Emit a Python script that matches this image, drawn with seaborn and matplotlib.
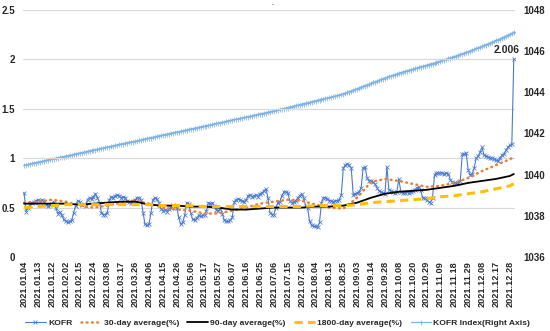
import matplotlib

matplotlib.use("Agg")

import matplotlib.pyplot as plt  # noqa: E402
import numpy as np  # noqa: E402
import seaborn as sns  # noqa: E402
from matplotlib import font_manager  # noqa: E402

# ---------------------------------------------------------------------------
# Data
# ---------------------------------------------------------------------------

tick_labels = [
    "2021.01.04", "2021.01.13", "2021.01.22", "2021.02.02", "2021.02.15", "2021.02.24",
    "2021.03.08", "2021.03.17", "2021.03.26", "2021.04.06", "2021.04.15", "2021.04.26",
    "2021.05.06", "2021.05.17", "2021.05.27", "2021.06.07", "2021.06.16", "2021.06.25",
    "2021.07.06", "2021.07.15", "2021.07.26", "2021.08.04", "2021.08.13", "2021.08.25",
    "2021.09.03", "2021.09.14", "2021.09.28", "2021.10.08", "2021.10.20", "2021.10.29",
    "2021.11.09", "2021.11.18", "2021.11.29", "2021.12.08", "2021.12.17", "2021.12.28",
]

# daily KOFR (%), one row per 7 trading days
kofr = [
    0.65, 0.46, 0.50, 0.53, 0.55, 0.56, 0.57,
    0.58, 0.57, 0.58, 0.56, 0.53, 0.52, 0.53,
    0.54, 0.56, 0.50, 0.44, 0.46, 0.42, 0.38,
    0.36, 0.35, 0.36, 0.37, 0.45, 0.52, 0.57,
    0.56, 0.53, 0.54, 0.52, 0.58, 0.60, 0.59,
    0.61, 0.64, 0.60, 0.55, 0.45, 0.43, 0.43,
    0.45, 0.58, 0.61, 0.60, 0.62, 0.63, 0.62,
    0.60, 0.61, 0.60, 0.57, 0.56, 0.55, 0.57,
    0.58, 0.60, 0.60, 0.58, 0.45, 0.33, 0.32,
    0.33, 0.45, 0.58, 0.60, 0.59, 0.55, 0.49,
    0.47, 0.48, 0.46, 0.49, 0.50, 0.53, 0.52,
    0.50, 0.40, 0.33, 0.35, 0.42, 0.55, 0.54,
    0.45, 0.38, 0.37, 0.39, 0.42, 0.41, 0.42,
    0.43, 0.47, 0.55, 0.54, 0.55, 0.52, 0.48,
    0.47, 0.49, 0.44, 0.37, 0.36, 0.36, 0.37,
    0.40, 0.56, 0.58, 0.59, 0.58, 0.57, 0.56,
    0.58, 0.62, 0.63, 0.61, 0.62, 0.63, 0.61,
    0.64, 0.65, 0.67, 0.69, 0.60, 0.45, 0.43,
    0.43, 0.50, 0.55, 0.56, 0.62, 0.66, 0.66,
    0.65, 0.57, 0.55, 0.56, 0.57, 0.60, 0.62,
    0.64, 0.60, 0.52, 0.50, 0.36, 0.32, 0.31,
    0.31, 0.30, 0.35, 0.55, 0.60, 0.60, 0.59,
    0.57, 0.57, 0.56, 0.57, 0.57, 0.58, 0.63,
    0.90, 0.93, 0.94, 0.93, 0.90, 0.63, 0.64,
    0.65, 0.66, 0.70, 0.90, 0.91, 0.80, 0.77,
    0.77, 0.76, 0.74, 0.70, 0.67, 0.66, 0.65,
    0.64, 0.91, 0.68, 0.67, 0.66, 0.65, 0.66,
    0.79, 0.66, 0.65, 0.65, 0.66, 0.65, 0.66,
    0.67, 0.68, 0.70, 0.71, 0.68, 0.60, 0.60,
    0.58, 0.56, 0.55, 0.60, 0.83, 0.85, 0.85,
    0.85, 0.85, 0.84, 0.85, 0.84, 0.78, 0.76,
    0.75, 0.75, 0.75, 0.77, 1.04, 1.04, 1.05,
    0.88, 0.83, 0.84, 0.90, 1.00, 1.02, 1.06,
    1.11, 1.03, 1.02, 1.01, 1.00, 1.00, 0.99,
    0.98, 0.97, 1.00, 1.03, 1.04, 1.08, 1.11,
    1.13, 1.14, 2.006,
]

# daily KOFR index (right axis)
kofr_index = [
    1040.46, 1040.48, 1040.50, 1040.52, 1040.55, 1040.57, 1040.59,
    1040.61, 1040.63, 1040.65, 1040.67, 1040.70, 1040.72, 1040.74,
    1040.76, 1040.78, 1040.80, 1040.82, 1040.84, 1040.86, 1040.88,
    1040.90, 1040.92, 1040.94, 1040.96, 1040.99, 1041.01, 1041.03,
    1041.05, 1041.07, 1041.09, 1041.11, 1041.14, 1041.16, 1041.18,
    1041.20, 1041.22, 1041.24, 1041.26, 1041.28, 1041.30, 1041.32,
    1041.34, 1041.36, 1041.38, 1041.40, 1041.43, 1041.45, 1041.47,
    1041.49, 1041.51, 1041.53, 1041.55, 1041.57, 1041.59, 1041.61,
    1041.63, 1041.65, 1041.67, 1041.69, 1041.72, 1041.74, 1041.76,
    1041.78, 1041.80, 1041.82, 1041.84, 1041.87, 1041.89, 1041.91,
    1041.93, 1041.95, 1041.97, 1041.99, 1042.01, 1042.03, 1042.05,
    1042.07, 1042.09, 1042.11, 1042.13, 1042.16, 1042.18, 1042.20,
    1042.22, 1042.24, 1042.26, 1042.28, 1042.30, 1042.32, 1042.34,
    1042.36, 1042.38, 1042.40, 1042.42, 1042.45, 1042.47, 1042.49,
    1042.51, 1042.53, 1042.55, 1042.57, 1042.60, 1042.62, 1042.64,
    1042.66, 1042.68, 1042.70, 1042.72, 1042.74, 1042.76, 1042.78,
    1042.80, 1042.82, 1042.84, 1042.86, 1042.89, 1042.91, 1042.93,
    1042.95, 1042.97, 1042.99, 1043.01, 1043.04, 1043.06, 1043.08,
    1043.10, 1043.12, 1043.15, 1043.17, 1043.19, 1043.21, 1043.24,
    1043.26, 1043.28, 1043.31, 1043.33, 1043.36, 1043.38, 1043.40,
    1043.43, 1043.45, 1043.47, 1043.50, 1043.52, 1043.54, 1043.57,
    1043.59, 1043.61, 1043.64, 1043.66, 1043.68, 1043.71, 1043.73,
    1043.75, 1043.77, 1043.80, 1043.82, 1043.85, 1043.88, 1043.90,
    1043.93, 1043.97, 1044.00, 1044.04, 1044.07, 1044.11, 1044.14,
    1044.18, 1044.22, 1044.26, 1044.29, 1044.33, 1044.37, 1044.40,
    1044.44, 1044.48, 1044.51, 1044.55, 1044.59, 1044.63, 1044.66,
    1044.70, 1044.73, 1044.77, 1044.80, 1044.83, 1044.86, 1044.90,
    1044.93, 1044.96, 1044.99, 1045.02, 1045.04, 1045.07, 1045.10,
    1045.13, 1045.16, 1045.18, 1045.21, 1045.24, 1045.27, 1045.29,
    1045.32, 1045.35, 1045.38, 1045.40, 1045.43, 1045.46, 1045.49,
    1045.52, 1045.55, 1045.58, 1045.61, 1045.65, 1045.68, 1045.71,
    1045.74, 1045.77, 1045.81, 1045.84, 1045.88, 1045.91, 1045.95,
    1045.98, 1046.02, 1046.06, 1046.09, 1046.13, 1046.17, 1046.20,
    1046.24, 1046.28, 1046.32, 1046.36, 1046.40, 1046.44, 1046.48,
    1046.52, 1046.56, 1046.60, 1046.65, 1046.69, 1046.73, 1046.78,
    1046.82, 1046.87, 1046.93,
]

# moving averages, read at each tick date plus the last day
avg_30 = [
    0.55, 0.56, 0.58, 0.56, 0.52, 0.50, 0.52, 0.55, 0.57, 0.54, 0.50, 0.48,
    0.47, 0.44, 0.44, 0.47, 0.50, 0.54, 0.56, 0.58, 0.57, 0.53, 0.50, 0.49,
    0.60, 0.76, 0.79, 0.77, 0.74, 0.71, 0.72, 0.75, 0.80, 0.87, 0.93, 0.99,
    1.01,
]
avg_90 = [
    0.54, 0.54, 0.54, 0.54, 0.53, 0.54, 0.55, 0.56, 0.56, 0.53, 0.52, 0.52,
    0.51, 0.51, 0.50, 0.48, 0.48, 0.49, 0.50, 0.50, 0.50, 0.51, 0.51, 0.52,
    0.55, 0.60, 0.64, 0.66, 0.67, 0.68, 0.70, 0.72, 0.75, 0.77, 0.79, 0.82,
    0.84,
]
avg_1800 = [
    0.50, 0.51, 0.52, 0.53, 0.53, 0.53, 0.53, 0.53, 0.53, 0.53, 0.52, 0.52,
    0.52, 0.51, 0.51, 0.51, 0.51, 0.51, 0.51, 0.51, 0.51, 0.52, 0.52, 0.52,
    0.53, 0.55, 0.56, 0.57, 0.58, 0.59, 0.61, 0.62, 0.64, 0.66, 0.69, 0.72,
    0.74,
]

# ---------------------------------------------------------------------------
# Chart
# ---------------------------------------------------------------------------

sns.set_theme(style="white")
plt.rcParams["font.family"] = ["Liberation Sans", "DejaVu Sans"]
plt.rcParams["font.weight"] = "bold"

installed = {f.name for f in font_manager.fontManager.ttflist}
legend_family = "Liberation Sans Narrow" if "Liberation Sans Narrow" in installed else "Liberation Sans"

TEXT = "#262626"
KOFR_BLUE = "#4A7BD0"
INDEX_BLUE = "#7DB2E6"

days = np.arange(len(kofr))
tick_pos = days[::7]
avg_pos = np.append(tick_pos, days[-1])

fig = plt.figure(figsize=(5.5, 3.31), dpi=100)
ax = fig.add_axes([0.042, 0.2236, 0.894, 0.7462])
ax2 = ax.twinx()

sns.lineplot(x=days, y=kofr_index, ax=ax2, color=INDEX_BLUE, lw=0.9,
             marker="+", markersize=3.6, markeredgewidth=0.55,
             markeredgecolor=INDEX_BLUE,
             label="KOFR Index(Right Axis)", legend=False)
sns.lineplot(x=days, y=kofr, ax=ax, color=KOFR_BLUE, lw=0.8,
             marker="x", markersize=2.8, markeredgewidth=0.55,
             markeredgecolor=KOFR_BLUE,
             label="KOFR", legend=False)
sns.lineplot(x=avg_pos, y=avg_30, ax=ax, color="#ED7D31", lw=1.8,
             linestyle=(0, (0.3, 1.8)), dash_capstyle="round",
             label="30-day average(%)", legend=False)
sns.lineplot(x=avg_pos, y=avg_90, ax=ax, color="black", lw=1.3,
             label="90-day average(%)", legend=False)
sns.lineplot(x=avg_pos, y=avg_1800, ax=ax, color="#FFC000", lw=2.2,
             linestyle=(0, (2.7, 1.7)),
             label="1800-day average(%)", legend=False)

# left axis above the twin so KOFR is drawn over the index line
ax.set_zorder(ax2.get_zorder() + 1)
ax.patch.set_visible(False)

ax.set_xlim(-0.5, len(kofr) - 0.5)
ax.set_ylim(0, 2.5)
ax.set_yticks(np.arange(0, 2.51, 0.5))
ax.set_yticklabels(["0", "0.5", "1", "1.5", "2", "2.5"])
ax2.set_ylim(1036, 1048)
ax2.set_yticks(np.arange(1036, 1048.1, 2))

ax.set_xticks(tick_pos)
ax.set_xticklabels(tick_labels, rotation=90, fontsize=6.6, fontweight="bold",
                   color=TEXT)
ax.tick_params(axis="x", length=0, pad=3)
ax.tick_params(axis="y", length=0, labelsize=7, labelcolor=TEXT, pad=6)
ax2.tick_params(axis="y", length=0, labelsize=7, labelcolor=TEXT, pad=6)
ax.set_xlabel("")
ax.set_ylabel("")
ax2.set_ylabel("")

ax.grid(axis="y", color="#D9D9D9", lw=0.9)
ax.grid(axis="x", visible=False)
ax2.grid(False)
for a in (ax, ax2):
    for s in a.spines.values():
        s.set_visible(False)

ax.annotate("2.006", (days[-1], kofr[-1]), xytext=(4, 3),
            textcoords="offset points", ha="right", va="bottom",
            fontsize=7.5, fontweight="bold", color=TEXT)

fig.text(0.497, 0.985, "-", fontsize=5, color="#7F7F7F", ha="center", va="center")

h1, l1 = ax.get_legend_handles_labels()
h2, l2 = ax2.get_legend_handles_labels()
fig.legend(h1 + h2, l1 + l2, loc="center", bbox_to_anchor=(0.505, 0.025),
           ncol=5, frameon=False, handlelength=2.4, columnspacing=1.0,
           handletextpad=0.3, labelcolor=TEXT,
           prop={"family": legend_family, "size": 6.1, "weight": "bold"})

fig.savefig("out.png", dpi=100)
plt.close(fig)
